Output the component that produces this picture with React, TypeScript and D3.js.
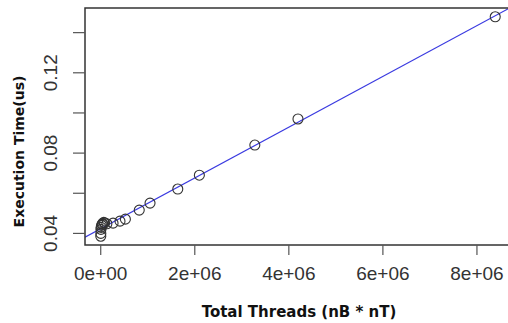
import React from "react";
import * as d3 from "d3";

const threads = [1024, 2048, 4096, 8192, 16384, 32768, 40960, 65536, 81920, 131072, 262144, 409600, 524288, 819200, 1048576, 1638400, 2097152, 3276800, 4194304, 8388608];
const times = [0.0386, 0.04, 0.042, 0.043, 0.044, 0.0445, 0.045, 0.0455, 0.0452, 0.0448, 0.0451, 0.0461, 0.0471, 0.0516, 0.0551, 0.0621, 0.069, 0.084, 0.097, 0.1479];
const xTicks = [0, 2e6, 4e6, 6e6, 8e6];
const xTickLabels = ["0e+00", "2e+06", "4e+06", "6e+06", "8e+06"];
const yTicks = [0.04, 0.06, 0.08, 0.1, 0.12, 0.14];
const yTickLabels = ["0.04", "", "0.08", "", "0.12", ""];
const xTitle = "Total Threads (nB * nT)";
const yTitle = "Execution Time(us)";

function pad(ext: [number, number]): [number, number] {
  const r = ext[1] - ext[0];
  return [ext[0] - 0.04 * r, ext[1] + 0.04 * r];
}

export default function App() {
  const W = 508, H = 323;
  const left = 85, right = 511, top = 8, bottom = 245;
  const x = d3.scaleLinear().domain(pad(d3.extent(threads) as [number, number])).range([left, right]);
  const y = d3.scaleLinear().domain(pad(d3.extent(times) as [number, number])).range([bottom, top]);

  // least squares fit
  const mx = d3.mean(threads)!;
  const my = d3.mean(times)!;
  let sxy = 0, sxx = 0;
  threads.forEach((t, i) => { sxy += (t - mx) * (times[i] - my); sxx += (t - mx) * (t - mx); });
  const slope = sxy / sxx;
  const icpt = my - slope * mx;
  const [d0, d1] = x.domain();
  const line = d3.line<number>().x(d => x(d)).y(d => y(icpt + slope * d));

  const tickFont = "'Liberation Sans', Arial, sans-serif";
  const titleFont = "'DejaVu Sans', Verdana, sans-serif";

  return (
    <svg width={W} height={H} style={{ position: "absolute", left: 0, top: 0, background: "#fff" }}>
      <defs>
        <clipPath id="plotclip">
          <rect x={left} y={top} width={right - left} height={bottom - top} />
        </clipPath>
      </defs>
      <rect x={0} y={0} width={W} height={H} fill="#fff" />
      <g clipPath="url(#plotclip)">
        <path d={line([d0, d1]) || ""} stroke="#3a3ae0" strokeWidth={1.2} fill="none" />
      </g>
      {threads.map((t, i) => (
        <circle key={i} cx={x(t)} cy={y(times[i])} r={5} fill="none" stroke="#333" strokeWidth={1.1} />
      ))}
      <rect x={left} y={top} width={right - left} height={bottom - top} fill="none" stroke="#333" strokeWidth={1.5} />
      {/* x axis */}
      {xTicks.map((t, i) => (
        <g key={"x" + i}>
          <line x1={x(t)} x2={x(t)} y1={bottom} y2={bottom + 10} stroke="#555" strokeWidth={1.2} />
          <text x={x(t)} y={280} textAnchor="middle" fontFamily={tickFont} fontSize={19} fill="#333">
            {xTickLabels[i]}
          </text>
        </g>
      ))}
      {/* y axis */}
      {yTicks.map((t, i) => (
        <g key={"y" + i}>
          <line x1={left - 12} x2={left} y1={y(t)} y2={y(t)} stroke="#555" strokeWidth={1.2} />
          {yTickLabels[i] && (
            <text
              transform={`translate(57,${y(t)}) rotate(-90)`}
              textAnchor="middle"
              fontFamily={tickFont}
              fontSize={19}
              fill="#333"
            >
              {yTickLabels[i]}
            </text>
          )}
        </g>
      ))}
      <text x={299} y={317} textAnchor="middle" fontFamily={titleFont} fontWeight="bold" fontSize={15} fill="#111">
        {xTitle}
      </text>
      <text
        transform={`translate(24,${(top + bottom) / 2 + 25}) rotate(-90)`}
        textAnchor="middle"
        fontFamily={titleFont}
        fontWeight="bold"
        fontSize={14}
        fill="#111"
      >
        {yTitle}
      </text>
    </svg>
  );
}
